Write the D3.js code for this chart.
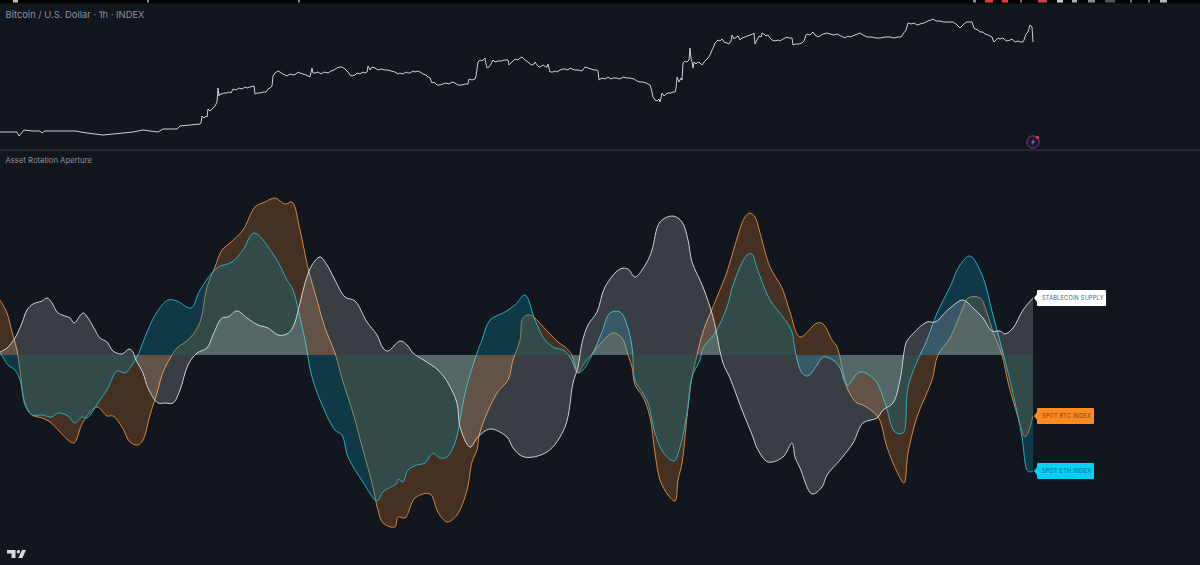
<!DOCTYPE html>
<html>
<head>
<meta charset="utf-8">
<script src="https://cdn.jsdelivr.net/npm/d3@7"></script>
<style>
  html, body { margin: 0; padding: 0; background: #12161f; overflow: hidden; }
  svg { display: block; }
  text { font-family: Inter, "Noto Sans", sans-serif; }
</style>
</head>
<body>
<div id="chart"></div>
<script>
// values, first number is the bar, second the chart units
var pricePoints = [[0,8],[8,8],[17,8],[19,4],[24,10],[32,9],[40,9],[42,7],[45,9],[60,9],[75,9],[87,7],[95,6],[103,5],[113,6],[123,7],[133,8],[143,10],[150,9],[158,8],[163,11],[170,11],[177,11],[180,14],[190,15],[200,16],[201,17],[202,24],[204,22],[206,24],[207,23],[208,31],[210,29],[213,32],[215,34],[217,38],[218,52],[219,44],[220,46],[222,46],[224,47],[227,47],[229,48],[231,47],[233,51],[236,50],[239,52],[242,51],[245,53],[247,52],[250,53],[254,54],[255,46],[257,47],[260,47],[263,48],[266,48],[268,51],[270,52],[272,54],[273,64],[275,67],[278,69],[280,68],[283,66],[285,65],[287,64],[290,66],[293,65],[296,66],[298,68],[300,67],[303,66],[306,65],[310,63],[312,72],[313,67],[315,67],[318,68],[321,66],[324,68],[328,67],[331,69],[334,70],[337,72],[340,73],[342,73],[345,71],[348,68],[350,65],[352,64],[355,65],[357,67],[360,66],[363,68],[365,67],[367,68],[368,74],[370,70],[372,73],[375,72],[378,70],[381,71],[385,70],[388,70],[391,69],[395,68],[398,66],[400,67],[403,66],[406,68],[408,67],[410,67],[413,69],[415,68],[417,69],[420,68],[423,66],[426,65],[428,63],[430,62],[432,57],[434,58],[437,55],[440,55],[443,56],[446,57],[449,56],[452,58],[455,57],[458,55],[462,55],[465,56],[468,56],[469,61],[472,60],[475,61],[476,64],[478,78],[480,80],[482,79],[485,82],[486,76],[487,72],[489,73],[491,76],[493,80],[495,78],[498,79],[501,79],[504,80],[506,80],[508,80],[509,75],[511,77],[513,79],[515,81],[518,80],[520,82],[522,83],[525,80],[528,78],[530,76],[532,75],[534,76],[535,78],[537,75],[539,73],[540,73],[543,75],[546,73],[547,73],[548,76],[550,68],[553,68],[555,69],[557,68],[560,70],[563,71],[565,71],[568,70],[570,72],[572,71],[575,70],[578,70],[582,69],[585,73],[588,72],[591,71],[594,70],[597,70],[598,69],[599,60],[602,62],[605,61],[608,63],[611,61],[613,62],[616,62],[620,61],[623,63],[627,62],[630,62],[634,61],[637,59],[640,58],[643,58],[646,57],[650,55],[651,52],[653,43],[655,40],[657,39],[659,41],[660,38],[661,42],[662,47],[664,44],[666,46],[668,47],[671,47],[673,48],[675,48],[676,52],[677,63],[679,58],[681,62],[682,60],[683,77],[685,79],[687,78],[689,80],[690,92],[691,82],[692,78],[693,72],[694,78],[696,76],[698,78],[700,77],[702,75],[704,78],[706,80],[708,82],[710,85],[712,90],[714,94],[715,97],[718,100],[720,99],[722,101],[724,98],[727,97],[729,96],[731,99],[732,105],[734,101],[735,102],[738,104],[740,100],[742,102],[745,103],[747,104],[750,105],[753,106],[754,107],[755,96],[757,100],[759,104],[761,103],[762,107],[764,106],[766,104],[768,105],[770,102],[772,100],[775,99],[778,100],[780,99],[783,101],[787,103],[789,102],[792,102],[793,95],[796,96],[799,96],[802,97],[804,99],[806,105],[807,106],[810,105],[813,108],[815,105],[818,103],[820,104],[823,106],[827,107],[830,106],[834,105],[837,106],[841,104],[845,102],[848,104],[850,103],[855,105],[860,107],[863,105],[867,103],[872,103],[876,102],[880,102],[885,103],[890,103],[894,102],[898,103],[901,103],[903,106],[906,110],[908,117],[911,116],[914,117],[917,115],[920,116],[924,117],[928,119],[931,120],[933,121],[936,119],[940,119],[943,118],[947,118],[950,118],[953,118],[956,116],[958,114],[960,112],[963,115],[965,117],[967,118],[970,118],[972,118],[974,112],[975,111],[978,110],[980,108],[983,108],[985,106],[988,105],[990,104],[992,103],[993,100],[994,98],[996,100],[998,102],[1000,101],[1003,102],[1005,100],[1007,99],[1010,100],[1012,101],[1015,98],[1018,99],[1020,98],[1023,98],[1024,100],[1026,106],[1028,108],[1030,115],[1032,113],[1033,98]];

var stableBars = [0,7,15,22,27,33,42,47,52,57,62,70,74,83,88,95,100,107,113,122,129,133,135,143,148,158,165,173,180,188,197,207,213,222,228,237,247,258,268,278,287,293,300,305,312,320,327,335,345,355,367,377,383,388,400,407,413,425,438,448,457,460,470,478,490,507,513,524,547,565,573,578,582,588,597,605,620,628,635,647,652,660,673,682,688,692,703,713,723,730,742,753,757,768,783,792,795,800,812,822,827,840,853,863,877,883,893,900,906,910,927,935,950,963,973,983,992,1000,1005,1013,1023,1033];
var stableVals = [3,7,17,32,45,51,54,57,52,43,40,37,32,42,37,25,17,13,4,1,6,3,-3,-18,-33,-48,-48,-48,-35,-10,2,7,20,37,38,44,37,30,27,20,21,28,52,72,90,98,90,75,58,54,33,20,7,4,14,10,2,-6,-15,-28,-48,-72,-92,-82,-74,-82,-93,-102,-97,-72,-28,-12,12,30,43,68,86,86,78,93,105,133,139,133,115,93,68,38,-8,-23,-55,-82,-93,-107,-102,-88,-102,-113,-139,-132,-120,-105,-88,-68,-63,-55,-48,-25,12,18,33,33,47,55,47,37,24,24,21,27,45,57];

var btcBars = [0,7,12,17,20,25,32,42,50,60,68,74,83,97,107,113,122,130,138,143,150,157,163,172,177,190,200,207,215,222,230,243,255,265,275,285,292,300,308,317,325,335,343,353,363,372,378,383,395,398,405,415,430,438,447,457,467,472,477,480,497,508,513,520,523,530,548,558,565,572,578,583,592,602,613,622,628,632,635,643,650,655,660,668,675,678,682,687,692,697,703,717,727,735,745,750,755,760,770,782,790,800,817,823,832,837,843,848,857,863,878,887,897,904,908,917,932,938,950,962,968,980,987,993,1002,1008,1018,1025,1028,1033];
var btcVals = [55,42,23,5,-15,-48,-60,-63,-67,-77,-85,-88,-67,-52,-61,-61,-72,-87,-90,-85,-60,-38,-17,0,7,17,33,68,88,105,112,125,148,153,157,151,153,125,87,55,27,2,-27,-58,-95,-128,-155,-168,-172,-162,-163,-143,-139,-157,-167,-160,-135,-107,-95,-77,-38,-25,-5,15,37,40,23,13,8,0,-18,-10,1,13,22,17,0,-12,-30,-42,-62,-98,-125,-140,-146,-125,-108,-62,-22,0,23,58,83,110,138,142,138,122,88,67,43,18,32,31,15,8,-17,-35,-48,-50,-62,-92,-117,-128,-98,-62,-25,0,17,45,57,57,42,23,0,-27,-62,-82,-78,-61];

var ethBars = [0,8,15,20,25,32,42,52,58,68,75,82,87,98,108,117,125,132,138,147,157,168,177,191,200,217,232,243,254,275,287,293,299,305,312,323,335,342,348,363,377,383,397,398,403,408,417,425,433,440,447,455,460,465,470,477,482,490,505,515,525,535,545,555,563,570,578,583,592,602,610,620,627,632,635,642,648,655,663,674,680,687,692,700,703,715,727,733,747,752,757,770,783,792,795,802,808,817,823,833,840,847,860,875,885,895,903,908,920,927,937,950,960,970,982,993,1003,1013,1022,1027,1030,1033];
var ethVals = [3,-10,-15,-25,-50,-60,-60,-62,-58,-61,-68,-62,-63,-48,-33,-16,-18,-10,0,23,43,55,54,47,65,87,93,105,122,98,75,65,42,15,-22,-52,-75,-80,-102,-127,-146,-137,-128,-124,-127,-115,-110,-108,-98,-103,-102,-88,-65,-38,-20,2,15,35,43,50,60,35,15,7,5,-2,-18,-15,0,23,42,43,30,8,-25,-37,-48,-78,-97,-106,-92,-58,-22,-5,7,22,48,70,100,101,87,55,38,23,5,-18,-21,-10,-2,-5,-13,-30,-17,-25,-48,-77,-78,-32,0,15,42,68,90,99,80,40,2,-38,-82,-115,-117,-116];

var seriesNames = ["SPOT BTC INDEX", "SPOT ETH INDEX", "STABLECOIN SUPPLY"];
var seriesFills = ["#ff8c2e", "#09839a", "#ffffff"];
var seriesLines = ["#d4853f", "#2aabbd", "#cfd1d6"];
var fillAlpha = [0.22, 0.33, 0.17];
var labelFills = ["#ff8a24", "#00d2f7", "#ffffff"];
var labelTexts = ["#7a3f0c", "#0f6a80", "#555862"];

var w = 1200, h = 565, endBar = 1033;

var svg = d3.select("#chart").append("svg")
  .attr("width", w)
  .attr("height", h);

svg.append("rect").attr("width", w).attr("height", h).attr("fill", "#12161f");

// top edge of the screenshot
svg.append("rect").attr("width", w).attr("height", 3.5).attr("fill", "#030304");
var topMarks = [[13,5,"#bdbdbd"],[147,2,"#8a8a8a"],[298,2,"#8a8a8a"],[973,3,"#8a8a8a"],[985,8,"#e03a3a"],[1002,6,"#e03a3a"],[1020,2,"#777777"],[1038,9,"#c8434a"],[1057,6,"#cfcfcf"],[1072,5,"#b0b0b0"],[1088,7,"#8a8a8a"],[1105,10,"#555555"],[1130,2,"#777777"],[1148,2,"#777777"],[1160,7,"#b8b8b8"]];
svg.selectAll(".top-mark")
  .data(topMarks)
  .enter()
    .append("rect")
      .attr("x", function(d){ return d[0] })
      .attr("y", 0)
      .attr("width", function(d){ return d[1] })
      .attr("height", 2.5)
      .attr("fill", function(d){ return d[2] })

var x = d3.scaleLinear().domain([0, endBar]).range([0, endBar]);
var yPrice = d3.scaleLinear().domain([0, 140]).range([140, 0]);
var yOsc = d3.scaleLinear().domain([-200, 200]).range([555, 155]);

// price pane
var priceLine = d3.line()
  .x(function(d){ return x(d[0]) })
  .y(function(d){ return yPrice(d[1]) });

svg.append("path")
  .attr("d", priceLine(pricePoints))
  .attr("fill", "none")
  .attr("stroke", "#cdcfd4")
  .attr("stroke-width", 1)
  .attr("stroke-linejoin", "round");

svg.append("text")
  .attr("x", 5.5).attr("y", 17.5)
  .attr("font-size", 9.4)
  .attr("fill", "#8f929b")
  .text("Bitcoin / U.S. Dollar · 1h · INDEX");

// pane divider
svg.append("rect").attr("x", 0).attr("y", 149.5).attr("width", w).attr("height", 1.2).attr("fill", "#343741");

svg.append("text")
  .attr("x", 5.5).attr("y", 163)
  .attr("font-size", 7.7)
  .attr("fill", "#8f929b")
  .text("Asset Rotation Aperture");

// oscillator pane, fill to the zero line and a line on top
var allBars = [btcBars, ethBars, stableBars];
var allVals = [btcVals, ethVals, stableVals];

allVals.forEach(function(vals, s){
  var bars = allBars[s];
  var curve = d3.curveCatmullRom.alpha(0.5);
  var area = d3.area()
    .x(function(d, i){ return x(bars[i]) })
    .y0(yOsc(0))
    .y1(function(d){ return yOsc(d) })
    .curve(curve);
  var line = d3.line()
    .x(function(d, i){ return x(bars[i]) })
    .y(function(d){ return yOsc(d) })
    .curve(curve);

  svg.append("path")
    .attr("d", area(vals))
    .attr("fill", seriesFills[s])
    .attr("fill-opacity", fillAlpha[s]);
  svg.append("path")
    .attr("d", line(vals))
    .attr("fill", "none")
    .attr("stroke", seriesLines[s])
    .attr("stroke-width", 1)
    .attr("stroke-linejoin", "round");
});

// end of line labels, the stablecoin one is wider
var labelRight = [60, 60, 72];
allVals.forEach(function(vals, s){
  var cy = yOsc(vals[vals.length - 1]);
  var left = x(endBar) + 1;
  var r = labelRight[s];
  var g = svg.append("g").attr("transform", "translate(" + left + "," + cy + ")");
  g.append("path")
    .attr("d", "M0,0 L3,-4 L3,-7 Q3,-8 4,-8 L" + (r - 1) + ",-8 Q" + r + ",-8 " + r + ",-7 L" + r + ",7 Q" + r + ",8 " + (r - 1) + ",8 L4,8 Q3,8 3,7 L3,4 Z")
    .attr("fill", labelFills[s]);
  g.append("text")
    .attr("x", 8).attr("y", 2.2)
    .attr("font-size", 5.6)
    .attr("letter-spacing", 0.22)
    .attr("fill", labelTexts[s])
    .text(seriesNames[s]);
});

// lightning badge in the price pane
var badge = svg.append("g").attr("transform", "translate(1033,142)");
badge.append("circle").attr("r", 6.2).attr("fill", "#1d1a2e").attr("stroke", "#7c3aa0").attr("stroke-width", 1);
badge.append("path").attr("d", "M1,-3.5 L-2,0.7 L-0.2,0.7 L-1,3.5 L2,-0.8 L0.2,-0.8 Z").attr("fill", "#9a5fd0");
badge.append("circle").attr("cx", 4.5).attr("cy", -4.5).attr("r", 1.6).attr("fill", "#e2453c");

// TradingView mark
var logo = svg.append("g").attr("transform", "translate(7,550)").attr("fill", "#d8d9dc");
logo.append("path").attr("d", "M0,0 H8.5 V8 H4.5 V3.4 H0 Z");
logo.append("circle").attr("cx", 11.4).attr("cy", 1.7).attr("r", 1.7);
logo.append("path").attr("d", "M15,0 H19 L15.4,8 H11.4 Z");
</script>
</body>
</html>
